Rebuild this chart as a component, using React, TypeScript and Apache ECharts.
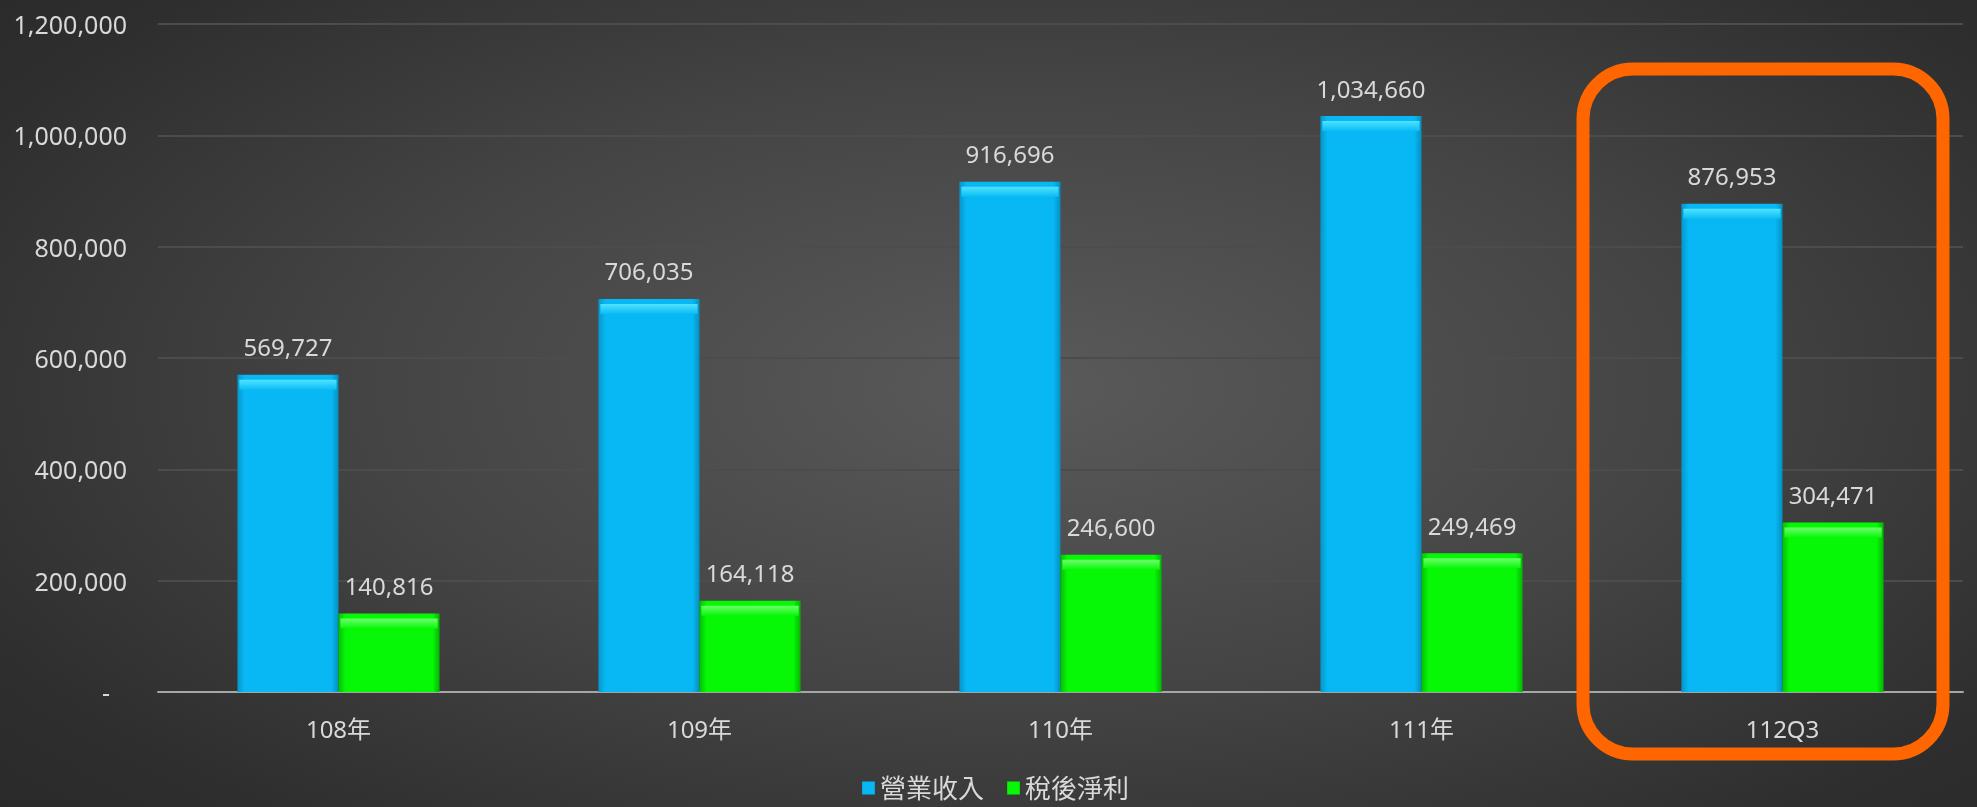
import React, { useEffect, useRef } from "react";
import * as echarts from "echarts";

const categories = ["108年", "109年", "110年", "111年", "112Q3"];
const revenue = [569727, 706035, 916696, 1034660, 876953];
const netIncome = [140816, 164118, 246600, 249469, 304471];
const seriesNames = ["營業收入", "稅後淨利"];
const yTicks = { min: 0, max: 1200000, interval: 200000 };

const FONT = "'Noto Sans', 'Noto Sans CJK TC', sans-serif";
const TXT = "#d9d9d9";

export default function App() {
  const ref = useRef<HTMLDivElement>(null);
  useEffect(() => {
    const chart = echarts.init(ref.current!, null, { renderer: "svg" });
    const fmt = (v: number) => v.toLocaleString("en-US");
    const blue = new echarts.graphic.LinearGradient(0, 0, 1, 0, [
      { offset: 0, color: "#0696c9" },
      { offset: 0.07, color: "#07b8f4" },
      { offset: 0.93, color: "#07b8f4" },
      { offset: 1, color: "#068fc0" },
    ]);
    const green = new echarts.graphic.LinearGradient(0, 0, 1, 0, [
      { offset: 0, color: "#04bf04" },
      { offset: 0.07, color: "#06f806" },
      { offset: 0.93, color: "#06f806" },
      { offset: 1, color: "#04b604" },
    ]);
    const blueTop = new echarts.graphic.LinearGradient(0, 0, 0, 1, [
      { offset: 0, color: "#4fe3ff" },
      { offset: 1, color: "#0abcf5" },
    ]);
    const greenTop = new echarts.graphic.LinearGradient(0, 0, 0, 1, [
      { offset: 0, color: "#6cff6c" },
      { offset: 1, color: "#08f808" },
    ]);
    const label = {
      show: true,
      position: "top",
      distance: 16,
      color: TXT,
      fontSize: 24,
      fontFamily: FONT,
      formatter: (p: any) => fmt(p.value),
    };
    const bevel = (name: string, data: number[], color: any) => ({
      name,
      type: "pictorialBar",
      data,
      barGap: "0%",
      barCategoryGap: "44%",
      symbol: "rect",
      symbolSize: ["96%", 10],
      symbolPosition: "end",
      symbolOffset: [0, "50%"],
      itemStyle: { color },
      z: 3,
      silent: true,
    });
    chart.setOption({
      animation: false,
      backgroundColor: "transparent",
      textStyle: { fontFamily: FONT },
      grid: { left: 158, right: 14, top: 24, bottom: 115, containLabel: false },
      legend: {
        left: 857,
        bottom: 1,
        icon: "rect",
        itemWidth: 13,
        itemHeight: 13,
        itemGap: 23,
        textStyle: { color: TXT, fontSize: 26, fontFamily: FONT },
        data: seriesNames,
      },
      xAxis: {
        type: "category",
        data: categories,
        axisLine: { lineStyle: { color: "#a6a6a6", width: 2 } },
        axisTick: { show: false },
        axisLabel: { color: TXT, fontSize: 24, fontFamily: FONT, margin: 24 },
      },
      yAxis: {
        type: "value",
        min: yTicks.min,
        max: yTicks.max,
        interval: yTicks.interval,
        axisLine: { show: false },
        axisTick: { show: false },
        splitLine: { lineStyle: { color: "#4c4c4c", width: 2 } },
        axisLabel: {
          color: TXT,
          fontSize: 25,
          fontFamily: FONT,
          margin: 31,
          formatter: (v: number) => (v === 0 ? "{z|-}" : fmt(v)),
          rich: { z: { color: TXT, fontSize: 25, fontFamily: FONT, padding: [0, 17, 0, 0] } },
        },
      },
      series: [
        {
          name: seriesNames[0],
          type: "bar",
          data: revenue,
          barGap: "0%",
          barCategoryGap: "44%",
          itemStyle: { color: blue },
          label,
        },
        {
          name: seriesNames[1],
          type: "bar",
          data: netIncome,
          barGap: "0%",
          barCategoryGap: "44%",
          itemStyle: { color: green },
          label,
        },
        bevel("revTop", revenue, blueTop),
        bevel("niTop", netIncome, greenTop),
      ],
      graphic: [
        {
          type: "rect",
          shape: { x: 1583, y: 69, width: 360, height: 685, r: 50 },
          style: { fill: "none", stroke: "#ff6600", lineWidth: 13 },
          z: 100,
        },
      ],
    });
    return () => chart.dispose();
  }, []);
  return (
    <div
      style={{
        position: "fixed",
        left: 0,
        top: 0,
        width: 1977,
        height: 807,
        background:
          "radial-gradient(ellipse 75% 85% at 52% 48%, #5a5a5a 0%, #444444 45%, #2e2e2e 80%, #282828 100%)",
      }}
    >
      <div ref={ref} style={{ width: 1977, height: 807 }} />
    </div>
  );
}
